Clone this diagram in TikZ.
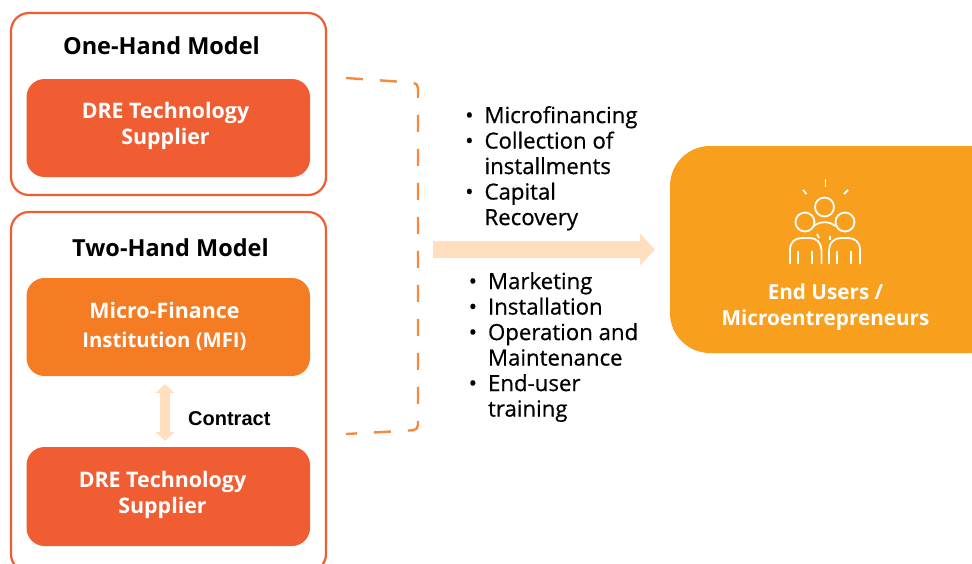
\documentclass[tikz,border=0pt]{standalone}
\usepackage{fontspec}
\setmainfont{Open Sans}
\newfontfamily\contractfont{Liberation Sans}
\usetikzlibrary{arrows.meta}
\definecolor{supplierred}{HTML}{F15D33}
\definecolor{mfiorange}{HTML}{F57C22}
\definecolor{useramber}{HTML}{F99F1E}
\definecolor{flowpeach}{HTML}{FFDFBD}
\definecolor{dashorange}{HTML}{F58A3C}
\tikzset{
    modelframe/.style={draw=supplierred, line width=2.2pt, rounded corners=18pt},
    orgbox/.style={rounded corners=18pt, text=white, align=center, font=\fontsize{21.4}{26}\selectfont\bfseries},
    modeltitle/.style={inner sep=0pt, font=\fontsize{23.5}{26}\selectfont\bfseries},
    tasklist/.style={inner sep=0pt, anchor=north west, font=\fontsize{22.2}{25.5}\selectfont\addfontfeatures{FakeBold=0.6}},
    iconline/.style={draw=white, line width=1.8pt}
}
\newcommand{\bulletgap}{\hspace{11pt}}
\begin{document}
\begin{tikzpicture}[x=1pt,y=-1pt]
    \useasboundingbox (0, 0) rectangle (972, 563);
    \clip (0, 0) rectangle (972, 563);

    % Linke Spalte
    \draw[modelframe] (11, 13) rectangle (326, 195);
    \draw[modelframe] (11, 212) rectangle (326, 572);
    \node[modeltitle] (onetitle) at (161.5, 46) {One-Hand Model};
    \node[modeltitle] (twotitle) at (170.5, 248) {Two-Hand Model};
    \fill[supplierred, rounded corners=18pt] (26.5, 79) rectangle (310, 177);
    \node[orgbox] (supplierone) at (165.5, 125.5) {DRE Technology\\Supplier};
    \fill[mfiorange, rounded corners=18pt] (26.5, 278) rectangle (310, 376);
    \node[orgbox] (mfi) at (164.5, 326) {Micro-Finance\\[3pt]{\fontsize{20.3}{26}\selectfont Institution (MFI)}};
    \fill[supplierred, rounded corners=18pt] (26.5, 447) rectangle (310, 546);
    \node[orgbox] (suppliertwo) at (162.5, 494.5) {DRE Technology\\Supplier};

    % Vertrag
    \coordinate (contracttop) at (165, 376);
    \coordinate (contractbottom) at (165, 447);
    \draw[draw=flowpeach, line width=9.5pt, {Triangle[length=9pt,width=18pt]}-{Triangle[length=9pt,width=18pt]}, shorten <=8pt, shorten >=6pt] (contracttop) -- (contractbottom);
    \node[inner sep=0pt, anchor=west, font=\contractfont\fontsize{20}{22}\selectfont\bfseries] (contract) at (188, 418.5) {Contract};

    % Klammer
    \coordinate (bracketa) at (346, 78);
    \coordinate (bracketb) at (418, 83);
    \coordinate (bracketc) at (418, 430);
    \coordinate (bracketd) at (346, 434);
    \draw[draw=dashorange, line width=2.4pt, dash pattern=on 17pt off 17pt, rounded corners=5pt] (bracketa) -- (bracketb) -- (bracketc) -- (bracketd);

    % Aufgaben
    \node[tasklist] (financetasks) at (465, 105) {\begin{tabular}{@{}l@{\bulletgap}l@{}}
        \textbullet & Microfinancing\\
        \textbullet & Collection of\\
        & installments\\
        \textbullet & Capital\\
        & Recovery
    \end{tabular}};
    \node[tasklist] (supplytasks) at (468.5, 271) {\begin{tabular}{@{}l@{\bulletgap}l@{}}
        \textbullet & Marketing\\
        \textbullet & Installation\\
        \textbullet & Operation and\\
        & Maintenance\\
        \textbullet & End-user\\
        & training
    \end{tabular}};

    % Endnutzer
    \fill[useramber, rounded corners=40pt] (670, 146) rectangle (1010, 353);
    \node[inner sep=0pt, text=white, align=center, font=\fontsize{20.7}{26}\selectfont\bfseries] (users) at (825.5, 307) {End Users /\\Microentrepreneurs};
    \coordinate (flowstart) at (433, 249.5);
    \coordinate (flowend) at (670, 249.5);
    \draw[draw=flowpeach, line width=17pt, -{Triangle[length=15pt,width=31pt]}, shorten >=15pt] (flowstart) -- (flowend);

    % Symbol
    \draw[iconline] (825.5, 179) -- (825.5, 187);
    \draw[iconline] (803, 190) -- (806.5, 194);
    \draw[iconline] (848, 190) -- (844, 194);
    \draw[iconline] (824.5, 207) circle (9.5);
    \draw[iconline] (805, 222) circle (9.5);
    \draw[iconline] (845, 222) circle (9.5);
    \draw[iconline] (814, 226) .. controls (819, 221) and (830, 221) .. (835, 226);
    \draw[iconline] (790, 264) -- (790, 250) .. controls (790, 242) and (795, 238) .. (802, 238) -- (810, 238) .. controls (817, 238) and (821, 243) .. (821.5, 250) -- (821.5, 264);
    \draw[iconline] (829, 264) -- (829, 250) .. controls (829, 243) and (834, 238) .. (841, 238) -- (848, 238) .. controls (855, 238) and (860, 242) .. (860, 250) -- (860, 264);
    \draw[iconline] (798, 251) -- (798, 264);
    \draw[iconline] (812, 251) -- (812, 264);
    \draw[iconline] (837, 251) -- (837, 264);
    \draw[iconline] (851, 251) -- (851, 264);
    \draw[iconline] (817, 234) -- (819, 238);
    \draw[iconline] (830, 236) -- (830, 240);
\end{tikzpicture}
\end{document}
